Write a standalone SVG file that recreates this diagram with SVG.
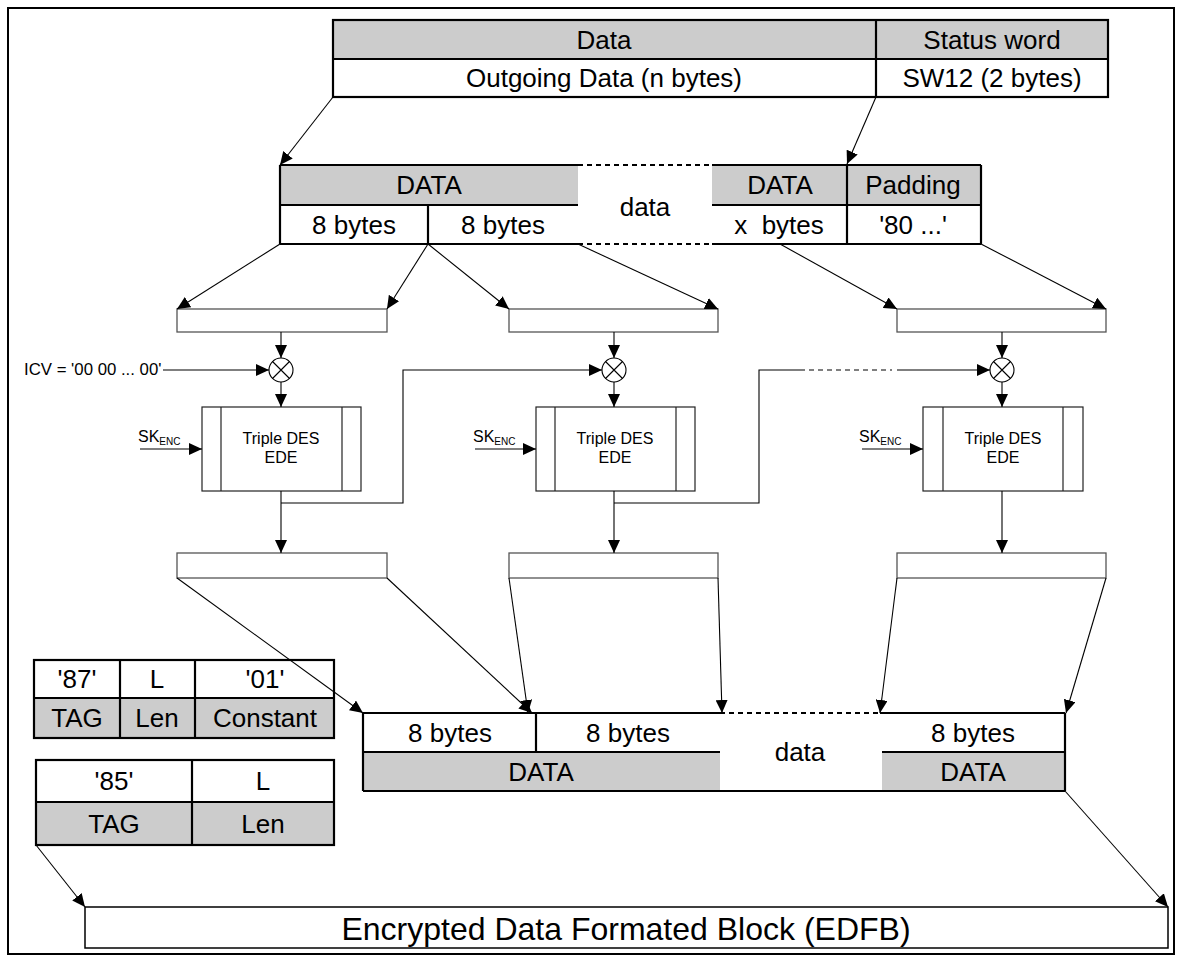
<svg xmlns="http://www.w3.org/2000/svg" width="1183" height="961" viewBox="0 0 1183 961">
<style>
text{font-family:"Liberation Sans",Arial,Helvetica,sans-serif;fill:#000}
.t26{font-size:26px;text-anchor:middle}
.t16{font-size:16px;text-anchor:middle}
.tb{stroke:#000;stroke-width:2.2;fill:none}
.dash{stroke:#000;stroke-width:2.2;fill:none;stroke-dasharray:5 4}
.gray{fill:#cccccc;stroke:none}
.box{fill:#fff;stroke:#555;stroke-width:1.3}
.des{fill:#fff;stroke:#222;stroke-width:1.2}
.c{stroke:#000;stroke-width:1.1;fill:none}
.ca{stroke:#000;stroke-width:1.1;fill:none;marker-end:url(#ah)}
.cd{stroke:#000;stroke-width:1.1;fill:none;stroke-dasharray:5 4}
</style>
<defs>
<marker id="ah" markerUnits="userSpaceOnUse" markerWidth="14" markerHeight="12" refX="13" refY="6" orient="auto">
<path d="M0,0 L13,6 L0,12 z" fill="#000"/>
</marker>
</defs>
<rect x="8" y="8" width="1166" height="946" fill="#fff" stroke="#000" stroke-width="2"/>

<g id="apdu">
<rect class="gray" x="333" y="20" width="775" height="39"/>
<rect class="tb" x="333" y="20" width="775" height="77"/>
<line class="tb" x1="333" y1="59" x2="1108" y2="59"/>
<line class="tb" x1="876" y1="20" x2="876" y2="97"/>
<text class="t26" x="604" y="49">Data</text>
<text class="t26" x="992" y="49">Status word</text>
<text class="t26" x="604" y="87">Outgoing Data (n bytes)</text>
<text class="t26" x="992" y="87">SW12 (2 bytes)</text>
</g>

<g id="padded">
<rect class="gray" x="280" y="165" width="298" height="40"/>
<rect class="gray" x="712" y="165" width="269" height="40"/>
<line class="tb" x1="280" y1="165" x2="578" y2="165"/>
<line class="dash" x1="578" y1="165" x2="712" y2="165"/>
<line class="tb" x1="712" y1="165" x2="981" y2="165"/>
<line class="tb" x1="280" y1="205" x2="578" y2="205"/>
<line class="tb" x1="712" y1="205" x2="981" y2="205"/>
<line class="tb" x1="280" y1="244" x2="578" y2="244"/>
<line class="dash" x1="578" y1="244" x2="712" y2="244"/>
<line class="tb" x1="712" y1="244" x2="981" y2="244"/>
<line class="tb" x1="280" y1="165" x2="280" y2="244"/>
<line class="tb" x1="428" y1="205" x2="428" y2="244"/>
<line class="tb" x1="847" y1="165" x2="847" y2="244"/>
<line class="tb" x1="981" y1="165" x2="981" y2="244"/>
<text class="t26" x="429" y="194">DATA</text>
<text class="t26" x="354" y="234">8 bytes</text>
<text class="t26" x="503" y="234">8 bytes</text>
<text class="t26" x="645" y="216">data</text>
<text class="t26" x="780" y="194">DATA</text>
<text class="t26" x="913" y="194">Padding</text>
<text class="t26" x="779" y="234" xml:space="preserve">x  bytes</text>
<text class="t26" x="913" y="234">'80 ...'</text>
</g>

<g id="in1"><rect class="box" x="177" y="309" width="210" height="23"/></g>
<g id="in2"><rect class="box" x="509" y="309" width="209" height="23"/></g>
<g id="in3"><rect class="box" x="897" y="309" width="209" height="23"/></g>

<g id="xor1"><circle cx="281" cy="370" r="12" fill="#fff" stroke="#000" stroke-width="1.1"/><path d="M272.5,361.5 L289.5,378.5 M289.5,361.5 L272.5,378.5" stroke="#000" stroke-width="1.1"/></g>
<g id="xor2"><circle cx="614" cy="370" r="12" fill="#fff" stroke="#000" stroke-width="1.1"/><path d="M605.5,361.5 L622.5,378.5 M622.5,361.5 L605.5,378.5" stroke="#000" stroke-width="1.1"/></g>
<g id="xor3"><circle cx="1002" cy="370" r="12" fill="#fff" stroke="#000" stroke-width="1.1"/><path d="M993.5,361.5 L1010.5,378.5 M1010.5,361.5 L993.5,378.5" stroke="#000" stroke-width="1.1"/></g>

<g id="icv"><text x="24" y="375" style="font-size:16.8px">ICV = '00 00 ... 00'</text></g>

<g id="des1">
<rect class="des" x="202" y="407" width="159" height="84"/>
<line class="des" x1="221" y1="407" x2="221" y2="491"/>
<line class="des" x1="342" y1="407" x2="342" y2="491"/>
<text class="t16" x="281" y="444">Triple DES</text>
<text class="t16" x="281" y="463">EDE</text>
</g>
<g id="des2">
<rect class="des" x="536" y="407" width="159" height="84"/>
<line class="des" x1="555" y1="407" x2="555" y2="491"/>
<line class="des" x1="676" y1="407" x2="676" y2="491"/>
<text class="t16" x="615" y="444">Triple DES</text>
<text class="t16" x="615" y="463">EDE</text>
</g>
<g id="des3">
<rect class="des" x="923" y="407" width="160" height="84"/>
<line class="des" x1="943" y1="407" x2="943" y2="491"/>
<line class="des" x1="1063" y1="407" x2="1063" y2="491"/>
<text class="t16" x="1003" y="444">Triple DES</text>
<text class="t16" x="1003" y="463">EDE</text>
</g>

<g id="sk1"><text x="138" y="442" style="font-size:16px">SK<tspan dy="3" style="font-size:10px">ENC</tspan></text></g>
<g id="sk2"><text x="473" y="442" style="font-size:16px">SK<tspan dy="3" style="font-size:10px">ENC</tspan></text></g>
<g id="sk3"><text x="859" y="442" style="font-size:16px">SK<tspan dy="3" style="font-size:10px">ENC</tspan></text></g>

<g id="out1"><rect class="box" x="177" y="553" width="210" height="25"/></g>
<g id="out2"><rect class="box" x="509" y="553" width="209" height="25"/></g>
<g id="out3"><rect class="box" x="897" y="553" width="209" height="25"/></g>

<g id="tlv87">
<rect class="gray" x="34" y="698" width="300" height="40"/>
<rect class="tb" x="34" y="660" width="300" height="78"/>
<line class="tb" x1="34" y1="698" x2="334" y2="698"/>
<line class="tb" x1="120" y1="660" x2="120" y2="738"/>
<line class="tb" x1="195" y1="660" x2="195" y2="738"/>
<text class="t26" x="77" y="688">'87'</text>
<text class="t26" x="157" y="688">L</text>
<text class="t26" x="265" y="688">'01'</text>
<text class="t26" x="77" y="727">TAG</text>
<text class="t26" x="157" y="727">Len</text>
<text class="t26" x="265" y="727">Constant</text>
</g>

<g id="tlv85">
<rect class="gray" x="36" y="802" width="298" height="43"/>
<rect class="tb" x="36" y="760" width="298" height="85"/>
<line class="tb" x1="36" y1="802" x2="334" y2="802"/>
<line class="tb" x1="192" y1="760" x2="192" y2="845"/>
<text class="t26" x="114" y="790">'85'</text>
<text class="t26" x="263" y="790">L</text>
<text class="t26" x="114" y="833">TAG</text>
<text class="t26" x="263" y="833">Len</text>
</g>

<g id="cipher">
<rect class="gray" x="363" y="752" width="357" height="39"/>
<rect class="gray" x="882" y="752" width="183" height="39"/>
<line class="tb" x1="363" y1="713" x2="720" y2="713"/>
<line class="dash" x1="720" y1="713" x2="880" y2="713"/>
<line class="tb" x1="880" y1="713" x2="1065" y2="713"/>
<line class="tb" x1="363" y1="752" x2="720" y2="752"/>
<line class="tb" x1="882" y1="752" x2="1065" y2="752"/>
<line class="tb" x1="363" y1="791" x2="1065" y2="791"/>
<line class="tb" x1="363" y1="713" x2="363" y2="791"/>
<line class="tb" x1="536" y1="713" x2="536" y2="752"/>
<line class="tb" x1="1065" y1="713" x2="1065" y2="791"/>
<text class="t26" x="450" y="742">8 bytes</text>
<text class="t26" x="628" y="742">8 bytes</text>
<text class="t26" x="800" y="761">data</text>
<text class="t26" x="973" y="742">8 bytes</text>
<text class="t26" x="541" y="781">DATA</text>
<text class="t26" x="973" y="781">DATA</text>
</g>

<g id="edfb">
<rect x="85" y="907" width="1083" height="41" fill="#fff" stroke="#000" stroke-width="1.5"/>
<text x="626" y="940" style="font-size:32px;text-anchor:middle">Encrypted Data Formated Block (EDFB)</text>
</g>

<g id="connectors">
<line class="ca" x1="333" y1="97" x2="280" y2="165"/>
<line class="ca" x1="876" y1="97" x2="847" y2="164"/>
<line class="ca" x1="280" y1="244" x2="177" y2="309"/>
<line class="ca" x1="428" y1="244" x2="387" y2="309"/>
<line class="ca" x1="428" y1="244" x2="509" y2="309"/>
<line class="ca" x1="578" y1="244" x2="718" y2="309"/>
<line class="ca" x1="780" y1="244" x2="897" y2="309"/>
<line class="ca" x1="981" y1="244" x2="1106" y2="309"/>
<line class="ca" x1="281" y1="332" x2="281" y2="358"/>
<line class="ca" x1="614" y1="332" x2="614" y2="358"/>
<line class="ca" x1="1002" y1="332" x2="1002" y2="358"/>
<line class="ca" x1="281" y1="382" x2="281" y2="407"/>
<line class="ca" x1="614" y1="382" x2="614" y2="407"/>
<line class="ca" x1="1002" y1="382" x2="1002" y2="407"/>
<line class="ca" x1="163" y1="370" x2="269" y2="370"/>
<line class="ca" x1="140" y1="449" x2="202" y2="449"/>
<line class="ca" x1="475" y1="449" x2="536" y2="449"/>
<line class="ca" x1="862" y1="449" x2="923" y2="449"/>
<line class="ca" x1="281" y1="491" x2="281" y2="553"/>
<line class="ca" x1="614" y1="491" x2="614" y2="553"/>
<line class="ca" x1="1002" y1="491" x2="1002" y2="553"/>
<polyline class="ca" points="281,503 403,503 403,370 602,370"/>
<polyline class="c" points="614,503 759,503 759,370 800,370"/>
<line class="cd" x1="800" y1="370" x2="892" y2="370"/>
<line class="ca" x1="897" y1="370" x2="990" y2="370"/>
<line class="ca" x1="177" y1="578" x2="363" y2="713"/>
<line class="ca" x1="387" y1="578" x2="532" y2="713"/>
<line class="ca" x1="509" y1="578" x2="528" y2="713"/>
<line class="ca" x1="718" y1="578" x2="722" y2="713"/>
<line class="ca" x1="897" y1="578" x2="880" y2="713"/>
<line class="ca" x1="1106" y1="578" x2="1066" y2="713"/>
<line class="ca" x1="36" y1="845" x2="85" y2="907"/>
<line class="ca" x1="1065" y1="791" x2="1168" y2="907"/>
</g>
</svg>
